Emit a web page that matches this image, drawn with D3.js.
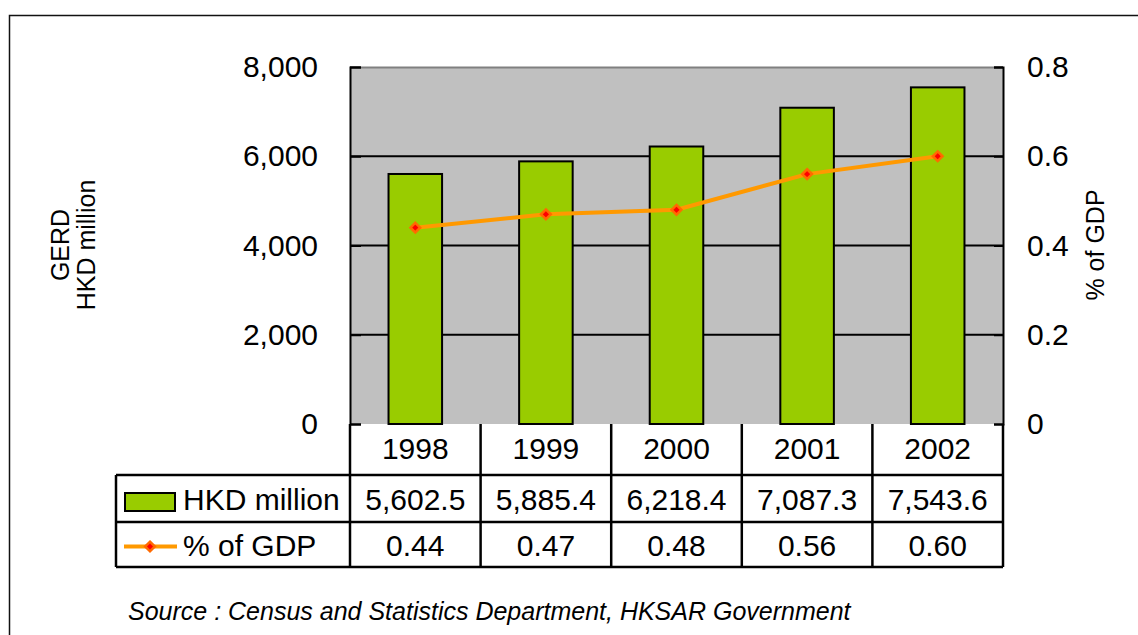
<!DOCTYPE html>
<html>
<head>
<meta charset="utf-8">
<script src="https://cdn.jsdelivr.net/npm/d3@7"></script>
<style>
  html, body { margin: 0; padding: 0; background: #fff; }
  svg { display: block; font-family: "Liberation Sans", Arial, sans-serif; }
</style>
</head>
<body>
<svg id="chart" width="1138" height="635"></svg>
<script>
// GERD in Hong Kong, 1998–2002
const years = ["1998", "1999", "2000", "2001", "2002"];
const hkdMillion = [5602.5, 5885.4, 6218.4, 7087.3, 7543.6];
const pctGDP = [0.44, 0.47, 0.48, 0.56, 0.60];
const leftTicks = [0, 2000, 4000, 6000, 8000];
const rightTicks = [0, 0.2, 0.4, 0.6, 0.8];
const seriesNames = ["HKD million", "% of GDP"];
const sourceNote = "Source : Census and Statistics Department, HKSAR Government";

const svg = d3.select("#chart");
const plot = { left: 350, right: 1003, top: 67, bottom: 424 };
const rows = [424, 475, 522, 567]; // table row boundaries
const tableLeft = 116;
const labelSize = 30;
const titleSize = 25;

const x = d3.scaleBand().domain(years).range([plot.left, plot.right]).padding(0);
const yL = d3.scaleLinear().domain([0, 8000]).range([plot.bottom, plot.top]);
const yR = d3.scaleLinear().domain([0, 0.8]).range([plot.bottom, plot.top]);

// outer frame
svg.append("rect")
  .attr("x", 9.5).attr("y", 15.5).attr("width", 1140).attr("height", 640)
  .attr("fill", "none").attr("stroke", "#111").attr("stroke-width", 1.5);

// plot background
svg.append("rect")
  .attr("x", plot.left).attr("y", plot.top)
  .attr("width", plot.right - plot.left).attr("height", plot.bottom - plot.top)
  .attr("fill", "#c0c0c0");

// top border (grey)
svg.append("line")
  .attr("x1", plot.left).attr("x2", plot.right)
  .attr("y1", plot.top + 0.5).attr("y2", plot.top + 0.5)
  .attr("stroke", "#808080").attr("stroke-width", 2);

// gridlines
svg.append("g").selectAll("line")
  .data(leftTicks.filter(t => t > 0 && t < 8000))
  .join("line")
  .attr("x1", plot.left).attr("x2", plot.right)
  .attr("y1", d => yL(d)).attr("y2", d => yL(d))
  .attr("stroke", "#000").attr("stroke-width", 2);

// bars
const barW = x.bandwidth() * 0.41;
svg.append("g").selectAll("rect")
  .data(years)
  .join("rect")
  .attr("x", d => x(d) + (x.bandwidth() - barW) / 2)
  .attr("y", (d, i) => yL(hkdMillion[i]))
  .attr("width", barW)
  .attr("height", (d, i) => yL(0) - yL(hkdMillion[i]))
  .attr("fill", "#99cc00")
  .attr("stroke", "#000").attr("stroke-width", 2);

// left axis
const leftAxis = svg.append("g")
  .attr("transform", `translate(${plot.left},0)`)
  .call(d3.axisLeft(yL).tickValues(leftTicks).tickSize(-11).tickPadding(32)
    .tickFormat(d3.format(",")));
leftAxis.select(".domain").attr("stroke", "#000").attr("stroke-width", 2);
leftAxis.selectAll(".tick line").attr("stroke", "#000").attr("stroke-width", 2);
leftAxis.selectAll(".tick text")
  .attr("font-size", labelSize).attr("fill", "#000")
  .attr("font-family", "Liberation Sans, Arial, sans-serif");

// right axis
const rightAxis = svg.append("g")
  .attr("transform", `translate(${plot.right},0)`)
  .call(d3.axisRight(yR).tickValues(rightTicks).tickSize(-9).tickPadding(24)
    .tickFormat(d => d === 0 ? "0" : d3.format(".1f")(d)));
rightAxis.select(".domain").attr("stroke", "#000").attr("stroke-width", 2);
rightAxis.selectAll(".tick line").attr("stroke", "#000").attr("stroke-width", 2);
rightAxis.selectAll(".tick text")
  .attr("font-size", labelSize).attr("fill", "#000")
  .attr("font-family", "Liberation Sans, Arial, sans-serif");

// % of GDP line
const line = d3.line()
  .x((d, i) => x(years[i]) + x.bandwidth() / 2)
  .y(d => yR(d));
svg.append("path")
  .datum(pctGDP)
  .attr("d", line)
  .attr("fill", "none").attr("stroke", "#ff9900").attr("stroke-width", 4);

const diamond = d3.symbol().type(d3.symbolDiamond2).size(60);
svg.append("g").selectAll("path")
  .data(pctGDP)
  .join("path")
  .attr("d", diamond)
  .attr("transform", (d, i) => `translate(${x(years[i]) + x.bandwidth() / 2},${yR(d)})`)
  .attr("fill", "#ff0000").attr("stroke", "#ff6a00").attr("stroke-width", 2.5);

// axis titles
svg.append("text")
  .attr("transform", "translate(69,245) rotate(-90)")
  .attr("text-anchor", "middle").attr("font-size", titleSize)
  .text("GERD");
svg.append("text")
  .attr("transform", "translate(95,245) rotate(-90)")
  .attr("text-anchor", "middle").attr("font-size", titleSize)
  .text("HKD million");
svg.append("text")
  .attr("transform", "translate(1104,245) rotate(-90)")
  .attr("text-anchor", "middle").attr("font-size", titleSize)
  .text("% of GDP");

// data table
const table = svg.append("g");
const hLines = [rows[1], rows[2], rows[3]];
table.selectAll("line.h")
  .data(hLines).join("line").attr("class", "h")
  .attr("x1", tableLeft).attr("x2", plot.right)
  .attr("y1", d => d).attr("y2", d => d)
  .attr("stroke", "#000").attr("stroke-width", 2.5);
const colEdges = years.map(d => x(d)).concat([plot.right]);
table.selectAll("line.v")
  .data(colEdges).join("line").attr("class", "v")
  .attr("x1", d => d).attr("x2", d => d)
  .attr("y1", plot.bottom).attr("y2", rows[3])
  .attr("stroke", "#000").attr("stroke-width", 2.5);
table.append("line")
  .attr("x1", tableLeft).attr("x2", tableLeft)
  .attr("y1", rows[1]).attr("y2", rows[3])
  .attr("stroke", "#000").attr("stroke-width", 2.5);

const cx = d => x(d) + x.bandwidth() / 2;
table.selectAll("text.yr")
  .data(years).join("text").attr("class", "yr")
  .attr("x", cx).attr("y", 459)
  .attr("text-anchor", "middle").attr("font-size", labelSize)
  .text(d => d);
table.selectAll("text.hkd")
  .data(years).join("text").attr("class", "hkd")
  .attr("x", cx).attr("y", 510)
  .attr("text-anchor", "middle").attr("font-size", labelSize)
  .text((d, i) => d3.format(",.1f")(hkdMillion[i]));
table.selectAll("text.gdp")
  .data(years).join("text").attr("class", "gdp")
  .attr("x", cx).attr("y", 556)
  .attr("text-anchor", "middle").attr("font-size", labelSize)
  .text((d, i) => d3.format(".2f")(pctGDP[i]));

// legend keys
table.append("rect")
  .attr("x", 125).attr("y", 493).attr("width", 50).attr("height", 18)
  .attr("fill", "#99cc00").attr("stroke", "#000").attr("stroke-width", 2);
table.append("text")
  .attr("x", 183).attr("y", 510).attr("font-size", labelSize)
  .text(seriesNames[0]);
table.append("line")
  .attr("x1", 124).attr("x2", 177).attr("y1", 546.5).attr("y2", 546.5)
  .attr("stroke", "#ff9900").attr("stroke-width", 4);
table.append("path")
  .attr("d", diamond)
  .attr("transform", "translate(150,546.5)")
  .attr("fill", "#ff0000").attr("stroke", "#ff6a00").attr("stroke-width", 2.5);
table.append("text")
  .attr("x", 183).attr("y", 556).attr("font-size", labelSize)
  .text(seriesNames[1]);

// source note
svg.append("text")
  .attr("x", 128).attr("y", 620)
  .attr("font-size", 25).attr("font-style", "italic")
  .text(sourceNote);
</script>
</body>
</html>
